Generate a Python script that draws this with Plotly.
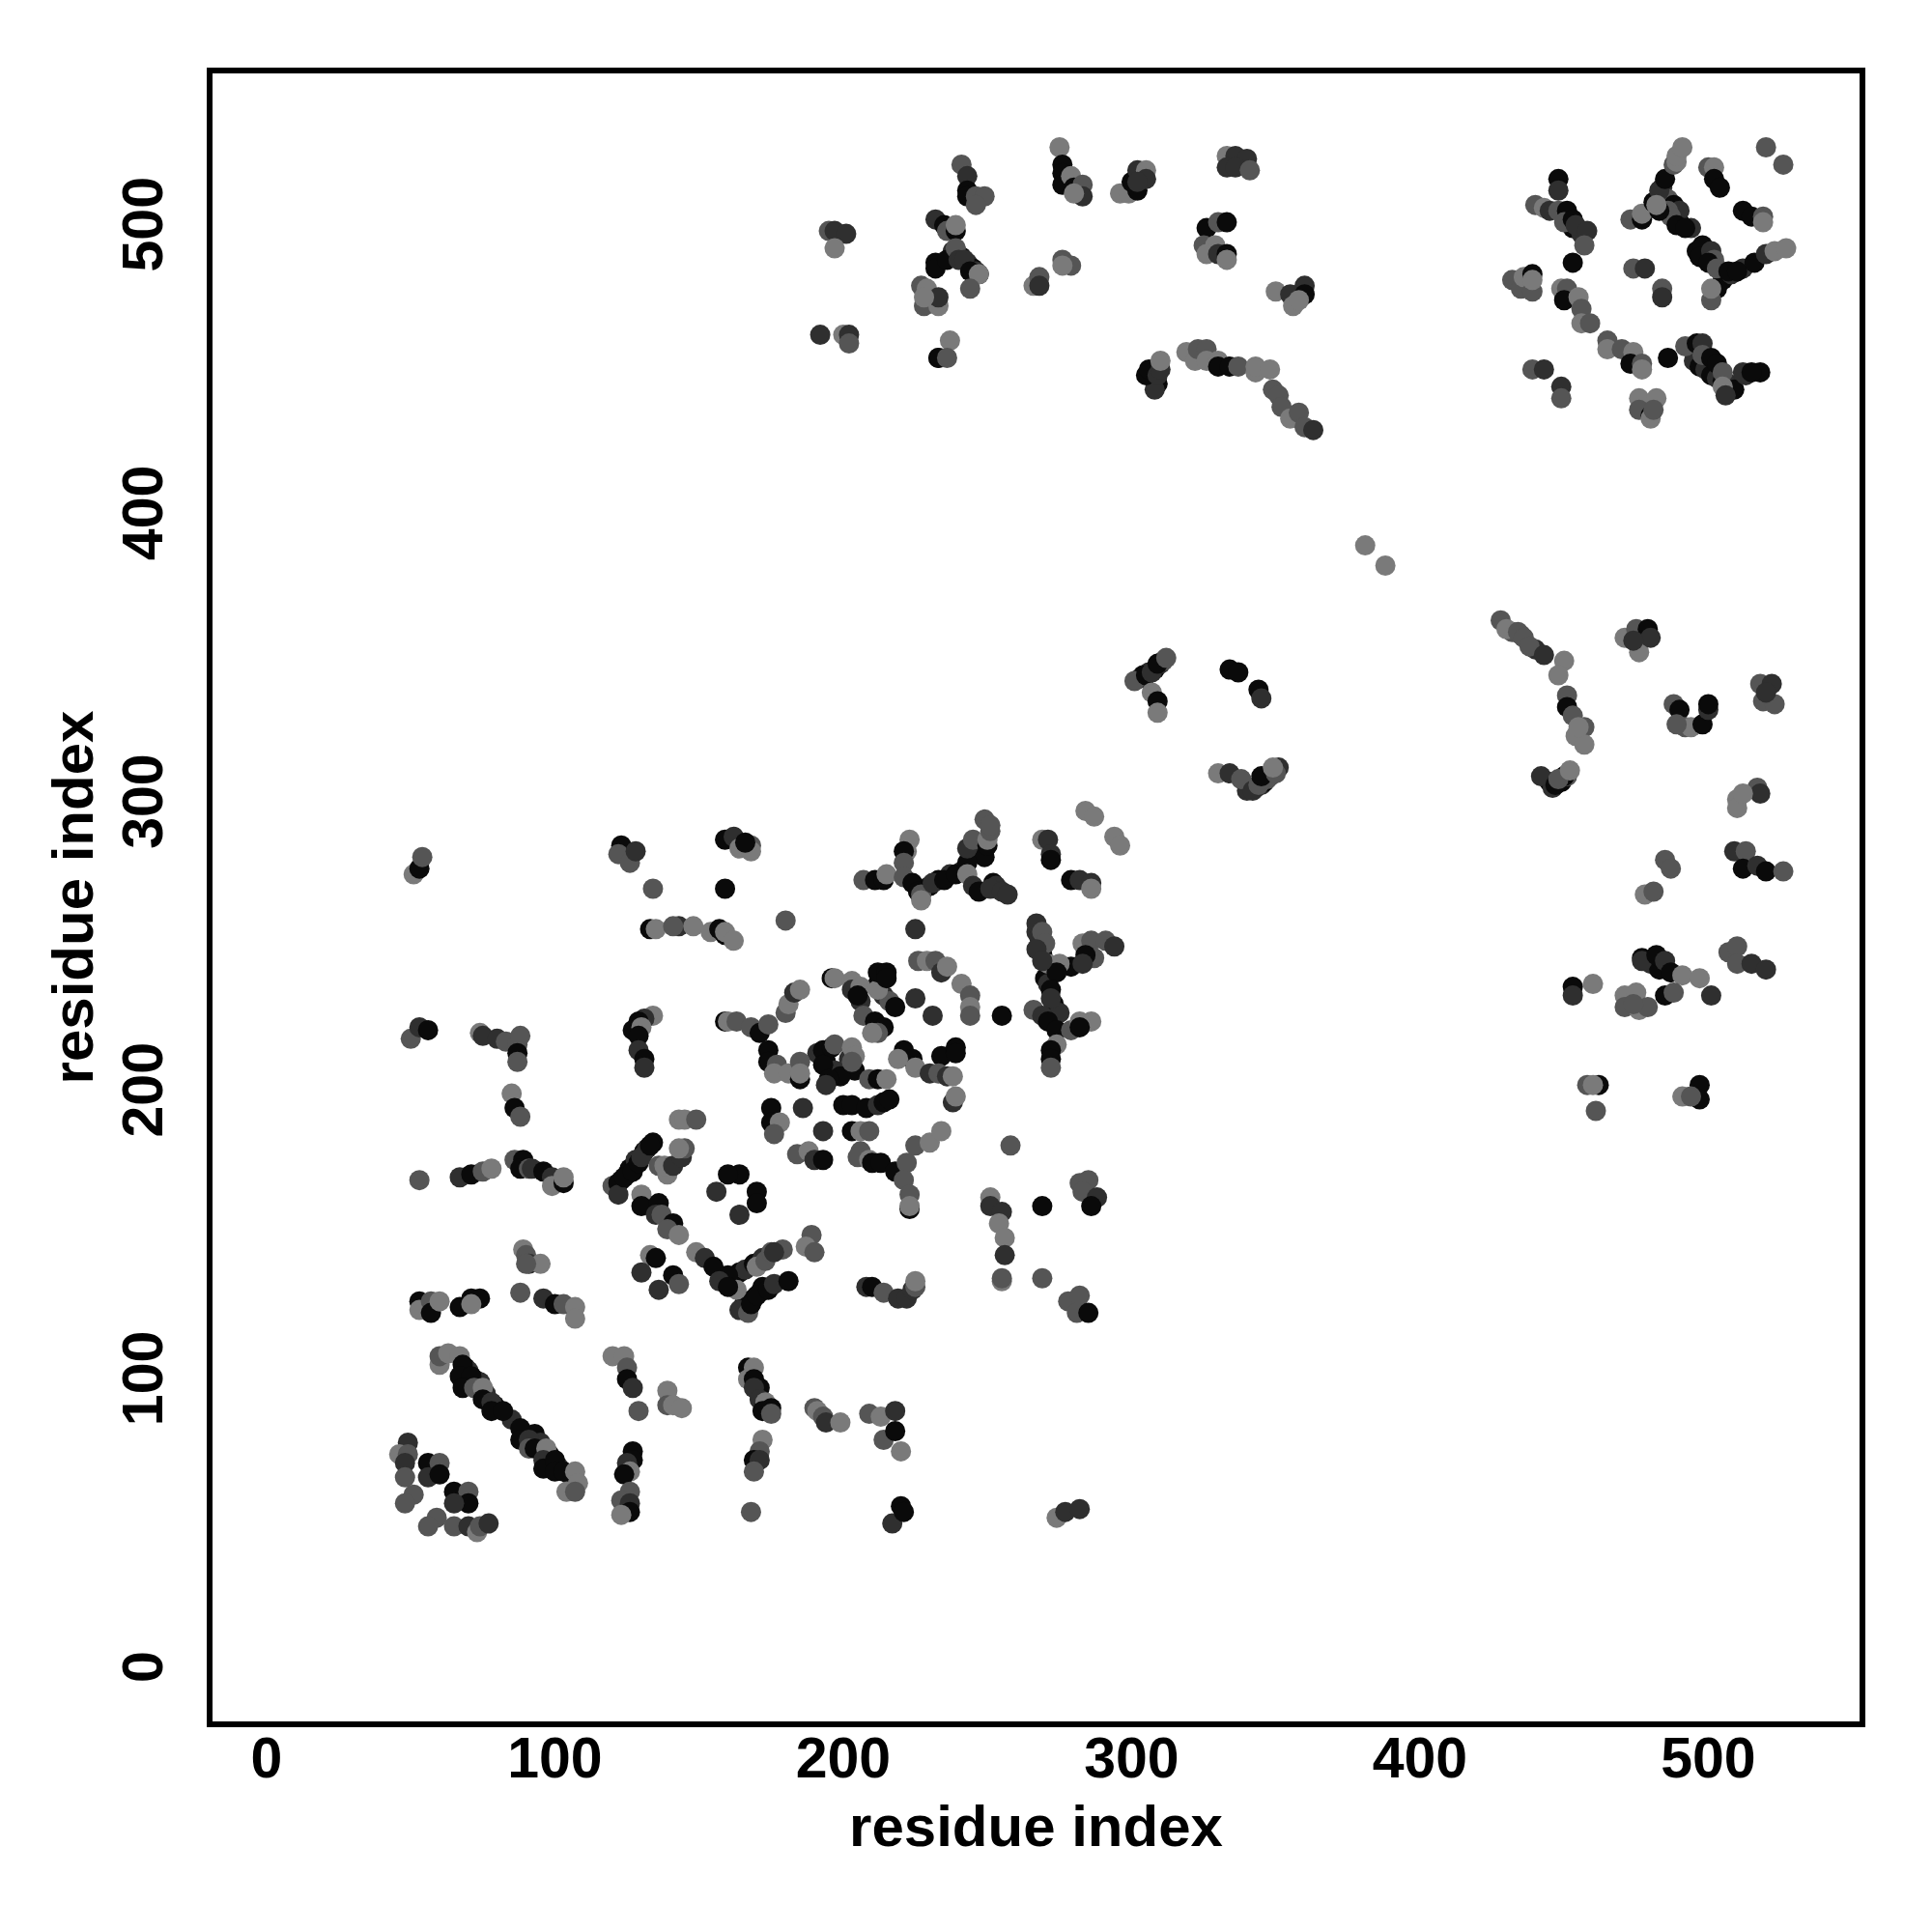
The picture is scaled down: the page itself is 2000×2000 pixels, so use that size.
import plotly.graph_objects as go

tick_values = [0, 100, 200, 300, 400, 500]
axis_label = "residue index"

fill_i = [303,304,306,308,310,311,340,343,345,346,348,349,351,445,446,449,451,432,435,440,490,494,496,499,505,508,
 238,241,243,245,246,267,268,269,270,271,273,275,212,214,216,218,202,204,123,125,126,128,131,132,134,165,166,169,171,172,
 162,164,166,169,172,93,95,98,99,101,105,69,70,72,74,76,79,85,247,249,252,253,
 226,228,230,233,237,241,307,308,309,484,486,488,490,450,452,453,456,
 477,480,483,495,497,499,501,503,505,507,509,513,518,191,194,197,199]
fill_j = [342,343,344,345,347,348,303,304,305,306,308,310,311,306,304,306,308,358,357,352,500,498,490,489,480,482,
 490,488,486,484,483,254,252,246,238,236,229,226,236,232,230,228,210,206,168,170,172,175,178,179,181,124,126,127,129,131,
 134,136,137,139,141,80,77,73,70,69,66,103,102,99,98,94,90,85,283,280,271,270,
 268,269,270,272,274,275,448,446,444,512,508,506,504,503,500,498,496,
 245,243,241,452,450,449,447,446,445,444,442,447,448,212,209,206,204]
fill_score = [1,0,1,0,1,2,1,0,1,0,1,2,1,0,1,0,2,2,2,1,0,1,0,1,0,1,
 1,0,1,0,1,1,1,0,0,1,0,1,0,1,2,0,1,0,1,0,0,1,0,1,0,1,0,0,1,0,
 1,0,1,0,1,0,1,0,0,1,1,0,1,0,1,1,0,1,1,0,0,1,
 0,1,0,0,1,1,0,1,0,1,2,0,1,2,1,0,1,
 0,1,0,1,0,1,0,1,0,1,0,1,0,1,0,1,0]

contact_i = [
 49,46,49,48,48,56,60,56,60,51,48,65,70,70,65,59,56,65,70,73,74,77,
 60,60,63,67,68,67,71,68,72,75,75,78,78,82,88,88,91,91,93,97,96,96,100,100,103,107,108,104,107,
 127,127,125,126,124,126,123,126,126,123,
 120,124,125,125,127,129,139,139,141,144,
 167,169,167,169,171,169,171,173,172,175,175,172,171,169,171,169,168,
 190,191,193,194,199,209,213,218,214,218,220,220,217,221,274,277,282,
 53,53,57,57,60,67,71,74,71,88,96,100,103,107,107,89,90,91,95,90,
 53,67,71,75,78,86,89,88,91,92,96,99,99,103,103,
 85,86,88,74,75,80,83,87,88,87,87,50,53,56,51,53,54,
 120,122,122,124,127,129,130,133,136,139,138,141,144,145,143,
 130,130,136,135,137,141,139,143,133,135,130,141,143,136,
 149,152,155,160,157,163,160,164,167,168,170,174,176,181,170,173,175,179,176,189,187,190,
 164,160,156,170,170,164,123,122,126,128,159,162,164,168,168,166,
 134,159,180,225,133,135,143,141,148,154,157,159,159,162,
 134,131,129,127,130,129,129,131,131,
 159,160,163,168,171,174,180,181,183,185,174,174,177,176,181,185,185,185,
 196,197,203,203,206,206,212,212,215,215,205,207,211,214,212,210,
 193,196,197,193,195,194,203,204,203,209,212,215,
 200,203,208,212,214,216,175,186,175,178,176,193,203,206,209,
 184,188,190,193,206,205,209,210,213,218,222,221,223,223,223,
 225,230,234,221,224,219,225,230,234,233,236,239,239,238,238,239,
 225,231,241,244,244,244,226,229,232,234,236,255,
 267,269,270,267,283,286,291,294,287,284,279,283,275,271,274,269,
 272,272,266,269,271,274,279,286,282,282,274,272,272,272,
 207,211,214,215,223,222,221,221,221,224,226,227,227,
 231,235,239,243,243,245,243,250,250,251,249,251,245,247,251,255,257,
 269,271,272,272,279,282,286,286,284,287,294,296,
 258,269,282,285,283,288,286,251,251,255,254,256,256,255,255,269,
 278,282,281,285,208,210,214,219,222,224,225,225,143,145,149,
 195,197,201,197,192,200,202,202,
 241,243,243,243,246,249,246,232,235,236,239,239,
 232,232,236,239,240,242,244,247,247,244,227,229,228,233,233,228,237,233,233,236,
 266,268,268,276,279,276,275,276,276,276,279,280,283,283,280,
 296,299,300,302,302,305,305,302,333,336,340,333,336,341,
 326,330,333,325,329,326,330,333,333,308,305,306,309,310,310,
 319,322,323,326,326,330,330,334,337,343,343,348,349,351,352,355,358,360,363,
 350,355,356,360,360,358,
 448,448,440,443,445,448,451,450,453,454,458,457,453,
 432,435,436,439,439,439,449,451,450,455,456,456,459,465,465,470,474,473,477,477,439,443,449,449,
 473,477,477,481,483,485,488,489,489,491,486,487,489,492,483,482,
 500,502,502,504,520,526,512,515,519,519,
 498,497,501,502,500,503,507,503,501,501,512,510,516,520,523,527,474,478,484,484,
 486,492,496,498,498,501,503,505,505,506,512,515,476,476,480,480,482,481,
 381,388,
 301,305,307,309,312,307,309,309,334,337,344,345,
 330,334,338,342,344,347,345,350,349,
 428,430,434,436,438,443,450,448,451,451,453,457,454,457,455,442,447,450,448,452,
 471,475,479,476,480,474,488,490,492,494,498,500,500,489,
 518,522,519,523,520,510,517,510,518,512,509,513,512,517,520,526,
 485,487,478,481,477,482,485,487,491,485,488,
 471,475,471,476,479,474,453,460,453,497,501,507,510,510,515,520,
 458,462,460,461,491,497,497,494,
]

contact_j = [
 77,73,73,70,65,70,70,65,66,59,56,60,60,56,56,51,48,48,48,46,48,49,
 104,107,108,107,104,100,100,96,96,96,92,91,88,88,82,78,78,75,75,75,71,68,71,67,67,67,63,60,60,
 74,71,70,67,66,60,57,56,53,52,
 107,107,103,99,96,88,95,90,90,89,
 103,103,99,99,96,96,92,91,88,89,87,78,74,71,71,67,53,
 89,88,86,84,84,87,86,88,78,81,74,55,49,53,51,53,54,
 126,123,126,122,126,124,127,127,125,129,127,125,125,124,120,144,142,139,139,139,
 168,169,170,171,172,175,175,172,172,172,171,169,166,167,169,
 198,193,190,219,218,217,216,215,218,212,209,217,221,220,274,276,280,
 166,167,163,169,171,174,176,180,173,170,173,173,176,179,179,
 163,159,160,156,156,153,151,149,142,141,136,135,132,130,
 143,141,138,135,133,130,131,123,122,125,128,130,132,133,138,140,143,144,143,149,145,143,
 170,170,164,164,160,156,284,281,278,282,286,287,283,284,282,285,
 269,269,258,255,255,255,256,256,256,254,255,253,254,251,
 225,224,223,220,221,218,213,210,207,
 223,223,223,221,219,222,226,229,233,234,213,209,208,205,205,209,203,205,
 238,238,237,234,235,230,234,240,240,238,232,225,223,221,219,219,
 213,214,215,208,203,201,214,211,209,203,203,203,
 194,194,193,194,195,196,193,193,188,188,184,185,185,185,185,
 177,178,175,175,178,176,175,174,174,171,174,168,163,158,159,
 180,181,185,213,210,210,207,205,211,205,204,214,212,204,195,197,
 231,225,236,232,228,225,244,244,244,240,242,225,
 257,254,250,248,250,251,251,249,245,246,242,243,243,243,240,244,
 234,231,227,225,223,220,220,223,223,221,215,213,210,207,
 272,272,272,274,286,282,282,278,273,271,268,267,265,
 271,272,274,278,283,286,274,284,286,289,293,291,270,268,269,268,267,
 286,286,281,279,272,272,271,269,296,294,287,284,
 180,159,167,168,164,162,159,162,159,157,153,148,142,133,134,134,
 126,128,122,122,131,131,129,127,127,130,131,133,189,189,189,
 497,497,496,491,461,461,461,458,
 520,516,511,509,509,509,506,501,499,497,497,499,
 486,484,487,491,487,487,483,482,482,477,478,477,471,471,474,474,459,453,453,453,
 478,481,478,487,485,485,526,520,517,513,516,512,513,509,510,
 510,510,514,511,518,518,515,514,523,523,522,519,519,518,
 498,500,500,492,492,489,489,489,487,442,447,449,447,449,452,
 455,452,456,456,452,452,450,450,450,448,450,449,442,440,436,432,434,429,428,
 476,475,471,478,475,473,
 515,511,506,505,504,504,504,500,501,499,497,492,486,
 480,477,481,482,476,480,477,477,473,474,470,465,465,459,456,456,455,451,451,449,449,449,443,439,
 501,501,503,507,511,515,520,521,523,526,504,502,499,498,504,506,
 519,519,515,512,526,520,504,502,502,500,
 492,488,490,487,486,484,483,477,473,477,484,483,486,489,490,491,484,484,477,474,
 453,457,458,458,454,453,451,448,443,440,448,448,439,435,433,432,439,435,
 388,381,
 341,343,344,347,349,337,334,330,345,344,338,335,
 309,309,307,303,305,307,308,309,311,
 362,359,358,356,353,350,348,343,336,332,329,325,322,319,325,308,305,308,307,310,
 356,359,359,351,356,355,333,331,325,325,326,331,333,326,
 340,340,334,333,337,300,304,297,302,302,282,282,276,277,275,275,
 279,276,267,268,244,246,244,240,239,232,233,
 232,233,228,227,228,229,235,236,232,238,232,247,249,243,243,241,
 201,201,201,192,197,201,196,197,
]

score = [
 1,3,2,1,2,0,2,1,0,2,2,0,2,0,1,2,2,2,1,3,2,1,
 3,2,3,3,0,0,0,0,2,3,0,1,0,0,0,0,1,2,0,3,1,0,0,0,0,3,3,3,2,
 0,0,1,3,0,2,2,1,0,3,
 3,3,2,0,1,2,3,2,3,3,
 0,3,3,0,0,1,1,3,0,0,2,3,2,0,1,2,2,
 2,3,2,1,3,2,3,1,2,0,3,0,1,0,3,1,1,
 0,3,2,0,3,0,0,0,3,2,1,0,2,3,3,3,2,1,3,2,
 2,1,0,2,3,2,0,0,2,1,0,1,3,0,3,
 3,0,2,3,1,1,2,2,2,0,2,2,1,0,3,0,2,
 2,0,1,0,0,0,1,0,2,3,3,1,1,2,3,
 3,0,0,1,2,0,2,3,3,0,1,0,2,1,
 3,1,0,0,1,3,0,1,2,0,0,0,1,0,3,2,2,2,1,2,3,2,
 0,0,1,0,0,1,0,2,2,1,0,1,3,2,3,0,
 2,0,2,1,0,3,1,2,3,3,0,0,3,3,
 3,1,0,0,3,0,1,0,1,
 0,3,2,2,0,2,2,3,1,3,0,0,2,3,3,2,0,3,
 0,3,3,1,3,1,3,0,0,0,0,2,0,0,2,3,
 0,0,2,0,0,1,3,3,2,2,0,3,
 0,0,0,1,0,0,0,1,0,3,2,1,0,3,2,
 2,3,1,0,2,2,3,0,0,0,2,2,2,0,3,
 2,3,3,0,0,3,3,1,0,2,1,0,0,3,1,3,
 1,1,3,2,3,2,2,3,2,1,3,0,
 1,2,2,1,3,2,2,1,2,0,0,1,3,3,0,1,
 0,1,2,1,0,0,2,3,3,0,3,0,0,2,
 2,0,0,3,3,3,0,2,2,0,0,2,3,
 1,0,0,0,1,2,3,0,3,2,2,2,1,0,1,1,1,
 3,1,1,0,0,1,1,3,3,3,3,3,
 2,0,2,2,2,1,0,3,1,1,3,3,1,3,2,2,
 2,2,2,0,1,0,2,1,1,1,2,3,3,3,2,
 2,1,1,3,1,3,1,2,
 2,1,0,0,2,2,2,1,0,2,0,3,
 0,0,0,2,1,1,0,0,3,2,2,3,2,3,1,3,3,1,0,2,
 3,2,1,2,2,3,3,0,0,0,3,0,2,1,3,
 3,3,0,0,1,3,1,1,3,1,1,1,1,2,
 0,2,0,2,3,3,1,0,3,1,0,0,1,1,3,
 3,3,2,2,3,3,0,0,2,3,3,3,2,2,2,3,2,2,1,
 3,1,3,1,0,3,
 0,1,2,3,1,2,0,2,0,1,1,2,0,
 2,2,3,0,2,3,3,2,0,3,2,3,2,2,3,2,3,0,2,3,2,1,1,2,
 2,0,3,0,1,0,2,3,3,3,2,2,0,0,0,3,
 2,3,0,0,2,2,0,0,2,3,
 0,0,1,2,0,2,0,0,2,3,1,0,0,1,3,3,2,1,2,1,
 0,2,0,1,2,0,0,2,3,1,1,0,3,2,0,3,3,2,
 3,3,
 2,0,1,0,2,3,0,3,0,0,0,1,
 3,1,2,1,2,2,0,2,3,
 2,3,2,2,2,1,3,3,2,0,2,2,3,3,3,1,0,0,2,3,
 3,2,0,3,1,1,2,0,2,3,0,1,0,2,
 2,1,2,2,1,3,2,3,1,3,1,2,0,1,0,2,
 2,2,3,2,1,0,1,0,3,0,2,
 3,3,2,3,2,2,0,3,1,3,1,2,2,2,1,1,
 2,0,3,2,3,0,0,2,
]

n = min(len(contact_i), len(contact_j), len(score))
m = min(len(fill_i), len(fill_j), len(fill_score))

fig = go.Figure(go.Scatter(
    x=fill_i[:m] + contact_i[:n], y=fill_j[:m] + contact_j[:n], mode="markers",
    marker=dict(size=21, color=fill_score[:m] + score[:n], cmin=0, cmax=3,
                colorscale=[[0, "#0a0a0a"], [1, "#7a7a7a"]], line=dict(width=0), opacity=1),
    showlegend=False, hoverinfo="skip",
))

tick_font = dict(family="Liberation Sans", size=59, color="#000000")
title_font = dict(family="Liberation Sans", size=60, color="#000000")
bold = "<b>%s</b>"
axis_common = dict(
    showgrid=False, zeroline=False, showline=True, mirror=True, linecolor="#000000", linewidth=6,
    ticks="", tickmode="array", tickvals=tick_values, ticktext=[bold % v for v in tick_values],
    tickfont=tick_font,
)
fig.update_xaxes(range=[-18.75, 552.45], ticklabelstandoff=-19,
                 title=dict(text=bold % axis_label, font=title_font, standoff=19), **axis_common)
fig.update_yaxes(range=[-19.6, 551.6], tickangle=-90, ticklabelstandoff=22, ticklabelshift=11,
                 title=dict(text=bold % axis_label, font=title_font, standoff=1), **axis_common)
fig.update_layout(width=2000, height=2000, autosize=False, paper_bgcolor="white", plot_bgcolor="white",
                  margin=dict(l=212, r=83, t=68, b=226, pad=0))
fig.write_html("out.html")
